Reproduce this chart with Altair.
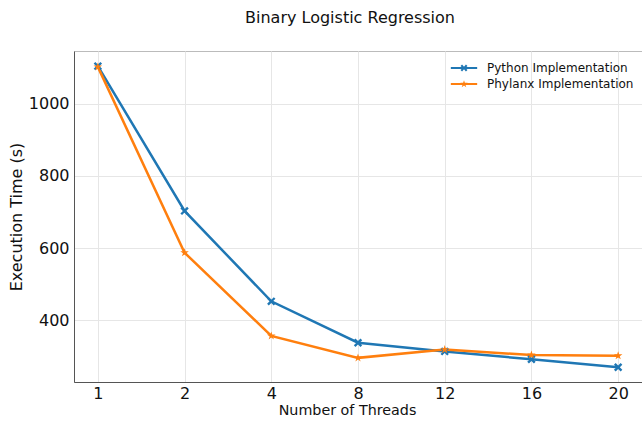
import altair as alt
import pandas as pd

threads = ["1", "2", "4", "8", "12", "16", "20"]
python_impl = [1105, 703, 452, 337, 313, 291, 269]
phylanx_impl = [1103, 587, 356, 295, 318, 303, 301]
series_names = ["Python Implementation", "Phylanx Implementation"]
colors = ["#1f77b4", "#ff7f0e"]

rows = []
for t, a, b in zip(threads, python_impl, phylanx_impl):
    rows.append({"threads": t, "time": a, "series": series_names[0]})
    rows.append({"threads": t, "time": b, "series": series_names[1]})
df = pd.DataFrame(rows)

X_PATH = "M-1,-0.6L-0.6,-1L0,-0.4L0.6,-1L1,-0.6L0.4,0L1,0.6L0.6,1L0,0.4L-0.6,1L-1,0.6L-0.4,0Z"
STAR_PATH = ("M0,-1L0.225,-0.309L0.951,-0.309L0.363,0.118L0.588,0.809L0,0.382"
             "L-0.588,0.809L-0.363,0.118L-0.951,-0.309L-0.225,-0.309Z")
LINE_SEG = "M-3.4,-0.28L3.4,-0.28L3.4,0.28L-3.4,0.28Z"
X_LEG = "M-0.9,-0.5L-0.5,-0.9L0,-0.35L0.5,-0.9L0.9,-0.5L0.35,0L0.9,0.5L0.5,0.9L0,0.35L-0.5,0.9L-0.9,0.5L-0.35,0Z"
STAR_LEG = STAR_PATH

x_enc = alt.X("threads:N", sort=threads,
              scale=alt.Scale(type="point", padding=0.275),
              axis=alt.Axis(title="Number of Threads", labelAngle=0, labelFontSize=16,
                            titleFontSize=14.3, titleFontWeight="normal", ticks=False, grid=True,
                            labelPadding=3, titlePadding=2, titleX=273, titleAlign="center",
                            domainColor="#555555",
                            gridColor="#e6e6e6", labelColor="#111111", titleColor="#111111"))
y_enc = alt.Y("time:Q",
              scale=alt.Scale(domain=[228, 1147], nice=False, zero=False),
              axis=alt.Axis(title="Execution Time (s)", values=[400, 600, 800, 1000], format="d",
                            labelFontSize=16, titleFontSize=16, titleFontWeight="normal",
                            ticks=False, labelPadding=5, titlePadding=4, domainColor="#555555",
                            gridColor="#e6e6e6", labelColor="#111111", titleColor="#111111"))
color_scale = alt.Scale(domain=series_names, range=colors)

base = alt.Chart(df)
py = base.transform_filter(alt.datum.series == series_names[0])
ph = base.transform_filter(alt.datum.series == series_names[1])

py_line = py.mark_line(strokeWidth=2.5, color=colors[0]).encode(x=x_enc, y=y_enc)
ph_line = ph.mark_line(strokeWidth=2.5, color=colors[1]).encode(x=x_enc, y=y_enc)
py_points = py.mark_point(filled=True, size=70, opacity=1, shape=X_PATH,
                          color=colors[0]).encode(x=x_enc, y=y_enc)
ph_points = ph.mark_point(filled=True, size=80, opacity=1, shape=STAR_PATH,
                          color=colors[1]).encode(x=x_enc, y=y_enc)

leg = alt.Legend(title=None, orient="none", legendX=384, legendY=11,
                 labelFontSize=12, labelOffset=17, symbolSize=60, symbolOpacity=1,
                 symbolStrokeWidth=0, rowPadding=4, labelColor="#111111")

legend_layer = base.transform_filter(alt.datum.threads == "1").mark_point(
    filled=True, size=60, opacity=0).encode(
    x=x_enc, y=y_enc,
    color=alt.Color("series:N", scale=color_scale, legend=leg),
    shape=alt.Shape("series:N",
                    scale=alt.Scale(domain=series_names,
                                    range=[LINE_SEG + X_LEG, LINE_SEG + STAR_LEG]),
                    legend=leg),
)

chart = alt.layer(legend_layer, py_line, ph_line, py_points, ph_points).properties(
    width=568, height=331,
    title=alt.TitleParams("Binary Logistic Regression", fontSize=16, fontWeight="normal",
                          anchor="middle", dx=-8, offset=25, color="#111111"),
    padding={"left": 8, "top": 10, "right": 0, "bottom": 0},
).configure(font="DejaVu Sans").configure_view(stroke="#bbbbbb")

chart.save("out.html", embed_options={"renderer": "svg", "actions": False})
